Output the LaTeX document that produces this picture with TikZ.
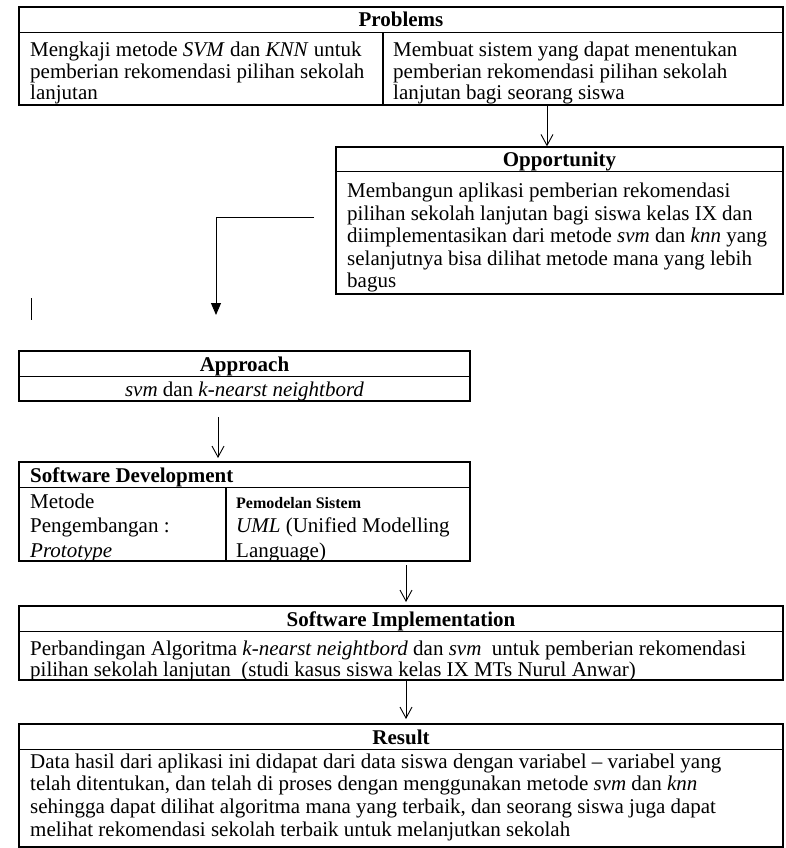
\documentclass[tikz,border=0pt]{standalone}
\usepackage{fontspec}
\setmainfont{Liberation Serif}
\usetikzlibrary{arrows.meta}
\newcommand{\fst}[1]{\rule{0pt}{#1pt}}
\begin{document}
\begin{tikzpicture}[x=1pt,y=-1pt,
  box/.style={draw,line width=1.3pt,rectangle,inner sep=0pt,anchor=center},
  divline/.style={line width=1.1pt},
  title/.style={font=\fontsize{21}{24}\selectfont\bfseries,inner sep=0pt,anchor=base},
  bodyp/.style={font=\fontsize{21}{21.5}\selectfont,align=left,inner sep=0pt,anchor=north west},
  bodyo/.style={font=\fontsize{21}{22.5}\selectfont,align=left,inner sep=0pt,anchor=north west},
  bodys/.style={font=\fontsize{21}{24.5}\selectfont,align=left,inner sep=0pt,anchor=north west},
  bodyi/.style={font=\fontsize{21}{21.5}\selectfont,align=left,inner sep=0pt,anchor=north west},
  bodyr/.style={font=\fontsize{21}{22.7}\selectfont,align=left,inner sep=0pt,anchor=north west},
  openarr/.style={line width=0.9pt,-{Straight Barb[length=11pt,width=12pt,line width=0.9pt]}},
  fillarr/.style={line width=0.9pt,-{Triangle[length=12pt,width=10pt]}}]
\useasboundingbox (0,0) rectangle (786,848);

% boxes
\node[box,minimum width=764pt,minimum height=98pt] (prob) at (401,56) {};
\node[box,minimum width=447pt,minimum height=147pt] (opp) at (559.5,220.5) {};
\node[box,minimum width=451pt,minimum height=50pt] (appr) at (244.5,376) {};
\node[box,minimum width=451pt,minimum height=99pt] (sd) at (244.5,511.5) {};
\node[box,minimum width=764pt,minimum height=74pt] (si) at (401,643) {};
\node[box,minimum width=764pt,minimum height=123pt] (res) at (401,785.5) {};

% header dividers
\draw[divline] ([yshift=-26pt]prob.north west) -- ([yshift=-26pt]prob.north east);
\draw[divline] ([yshift=-25pt]opp.north west) -- ([yshift=-25pt]opp.north east);
\draw[divline] ([yshift=-26pt]appr.north west) -- ([yshift=-26pt]appr.north east);
\draw[divline] ([yshift=-26pt]sd.north west) -- ([yshift=-26pt]sd.north east);
\draw[divline] ([yshift=-26pt]si.north west) -- ([yshift=-26pt]si.north east);
\draw[divline] ([yshift=-26pt]res.north west) -- ([yshift=-26pt]res.north east);
% column dividers
\draw[divline] (383,33) -- (383,105);
\draw[divline] (226,488) -- (226,561);

% titles
\node[title] (probT) at (401,27) {Problems};
\node[title] (oppT) at (559.5,166) {Opportunity};
\node[title] (apprT) at (244.5,371.5) {Approach};
\node[title,anchor=base west] (sdT) at (30,482) {Software Development};
\node[title] (siT) at (401,626) {Software Implementation};
\node[title] (resT) at (401,744) {Result};

% body texts
\node[bodyp] (probL) at (30,33) {\fst{23.5}Mengkaji metode \textit{SVM} dan \textit{KNN} untuk\\pemberian rekomendasi pilihan sekolah\\lanjutan};
\node[bodyp] (probR) at (393,33) {\fst{23.5}Membuat sistem yang dapat menentukan\\pemberian rekomendasi pilihan sekolah\\lanjutan bagi seorang siswa};
\node[bodyo] (oppB) at (347,172) {\fst{25.5}Membangun aplikasi pemberian rekomendasi\\pilihan sekolah lanjutan bagi siswa kelas IX dan\\diimplementasikan dari metode \textit{svm} dan \textit{knn} yang\\selanjutnya bisa dilihat metode mana yang lebih\\bagus};
\node[bodys,anchor=base] (apprB) at (244.5,396.5) {\textit{svm} dan \textit{k-nearst neightbord}};
\node[bodys] (sdL) at (30,488) {\fst{20}Metode\\Pengembangan :\\\textit{Prototype}};
\node[bodys] (sdR) at (236,488) {\fst{20}{\fontsize{16}{24}\selectfont\bfseries Pemodelan Sistem}\\\textit{UML} (Unified Modelling\\Language)};
\node[bodyi] (siB) at (30,632) {\fst{23}Perbandingan Algoritma \textit{k-nearst neightbord} dan \textit{svm}\ \ untuk pemberian rekomendasi\\pilihan sekolah lanjutan\ \ (studi kasus siswa kelas IX MTs Nurul Anwar)};
\node[bodyr] (resB) at (30,750) {\fst{18}Data hasil dari aplikasi ini didapat dari data siswa dengan variabel – variabel yang\\telah ditentukan, dan telah di proses dengan menggunakan metode \textit{svm} dan \textit{knn}\\sehingga dapat dilihat algoritma mana yang terbaik, dan seorang siswa juga dapat\\melihat rekomendasi sekolah terbaik untuk melanjutkan sekolah};

% connectors
\coordinate (x1) at (547,0);
\draw[openarr] (prob.south -| x1) -- (opp.north -| x1);
\coordinate (cs) at (314,217);
\coordinate (ce) at (216,315);
\draw[fillarr] (cs) -| (ce);
\coordinate (st1) at (31,298);
\coordinate (st2) at (31,320);
\draw[line width=0.9pt] (st1) -- (st2);
\coordinate (a2s) at (218,417);
\coordinate (a2e) at (218,458);
\draw[openarr] (a2s) -- (a2e);
\coordinate (a3s) at (406,565);
\coordinate (a3e) at (406,602);
\draw[openarr] (a3s) -- (a3e);
\coordinate (x4) at (406,0);
\coordinate (a4e) at (406,719);
\draw[openarr] (si.south -| x4) -- (a4e);
\end{tikzpicture}
\end{document}
